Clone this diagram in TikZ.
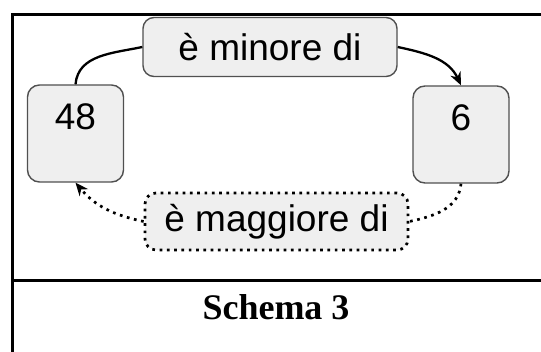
\documentclass[tikz,border=0pt]{standalone}
\usepackage{fontspec}
\setmainfont{Liberation Serif}
\setsansfont{Liberation Sans}
\usetikzlibrary{arrows.meta,positioning}
\definecolor{boxfill}{HTML}{EFEFEF}
\definecolor{boxdraw}{HTML}{505050}

\begin{document}
\begin{tikzpicture}[x=1pt,y=-1pt,
    numbox/.style={draw=boxdraw,fill=boxfill,line width=1.4pt,rounded corners=12pt,
      minimum width=96pt,inner sep=5pt,text height=40pt,text depth=47pt,
      font=\sffamily\fontsize{37}{40}\selectfont},
    relbox/.style={draw=boxdraw,fill=boxfill,line width=1.4pt,rounded corners=11pt,
      inner sep=0pt,font=\sffamily\fontsize{37}{40}\selectfont},
    dotline/.style={line width=2.7pt,dash pattern=on 2.7pt off 4.6pt},
    tip/.style={-{Stealth[length=13pt,width=11pt]}}]
  \useasboundingbox (0,0) rectangle (541,352);
  % cornice
  \draw[line width=3pt] (541,15) -- (12,15) -- (12,352);
  \draw[line width=3pt] (12,281) -- (541,281);
  % concetti
  \node[numbox] (n_48) at (75.5,133.5) {48};
  \node[numbox] (n_6) at (461,134.5) {6};
  % relazioni
  \node[relbox,minimum width=254pt,minimum height=59pt] (rel_min) at (270,47) {è minore di};
  \node[relbox,dotline,draw=black,minimum width=263pt,minimum height=57pt] (rel_mag) at (276.5,221.5) {è maggiore di};
  \path[line width=2.3pt]
    (n_48.north) edge [out=85,in=192] (rel_min.west)
    (rel_min.east) edge [tip,out=-12,in=115] (n_6.north);
  \path[dotline]
    (n_6.south) edge [out=-95,in=12] (rel_mag.east)
    (rel_mag.west) edge [tip,out=168,in=-50] (n_48.south);
  \node (caption) at (276,307) {\fontsize{36}{40}\selectfont\bfseries Schema 3};
\end{tikzpicture}
\end{document}
